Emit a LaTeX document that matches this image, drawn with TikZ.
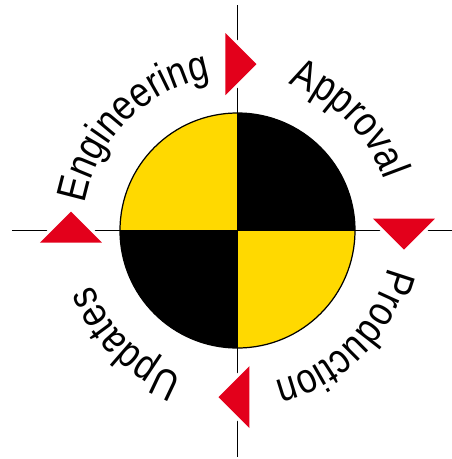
\documentclass[tikz,border=0pt]{standalone}
\usepackage{fontspec}
\newfontfamily\wheelfont{Liberation Sans}[FakeStretch=0.84]
\usetikzlibrary{decorations.text}
\definecolor{wheelyellow}{RGB}{255,217,0}
\definecolor{wheelred}{RGB}{227,0,27}

\begin{document}
\begin{tikzpicture}[
    x=0.2mm,
    y=0.2mm,
    axis/.style={line width=1.1pt},
    marker/.style={
      fill=wheelred,
      preaction={draw=white,line width=4pt}
    },
    arclabel/.style={
      decorate,
      decoration={
        text along path,
        text align=center,
        text={|\wheelfont\fontsize{24}{24}\selectfont|#1}
      }
    }
  ]
  \useasboundingbox (-237.5,-228.5) rectangle (214.5,230.5);

  % ========== Disc ==========
  \fill[wheelyellow] (0,0) circle[radius=117.5];
  \fill (0,0) -- (0:117.5) arc[start angle=0,end angle=90,radius=117.5] -- cycle;
  \fill (0,0) -- (180:117.5) arc[start angle=180,end angle=270,radius=117.5] -- cycle;
  \draw[line width=0.7pt] (0,0) circle[radius=117.5];

  % ========== Axes ==========
  \coordinate (top) at (0,225.5);
  \coordinate (bottom) at (0,-226.5);
  \coordinate (left) at (-225.5,0);
  \coordinate (right) at (214.5,0);

  \draw[axis] (top) -- (bottom);
  \draw[axis] (left) -- (right);

  % ========== Markers ==========
  \foreach \a in {0,-90,-180,-270}
    \path[marker,rotate=\a] (-12,135.5) -- (-12,197.5) -- (19,166.5) -- cycle;

  % ========== Labels ==========
  \path[arclabel=Engineering] (180:155) arc[start angle=180,end angle=90,radius=155];
  \path[arclabel=Approval] (90:155) arc[start angle=90,end angle=0,radius=155];
  \path[arclabel=Production] (0:155) arc[start angle=0,end angle=-90,radius=155];
  \path[arclabel=Updates] (-90:155) arc[start angle=-90,end angle=-180,radius=155];
\end{tikzpicture}
\end{document}
